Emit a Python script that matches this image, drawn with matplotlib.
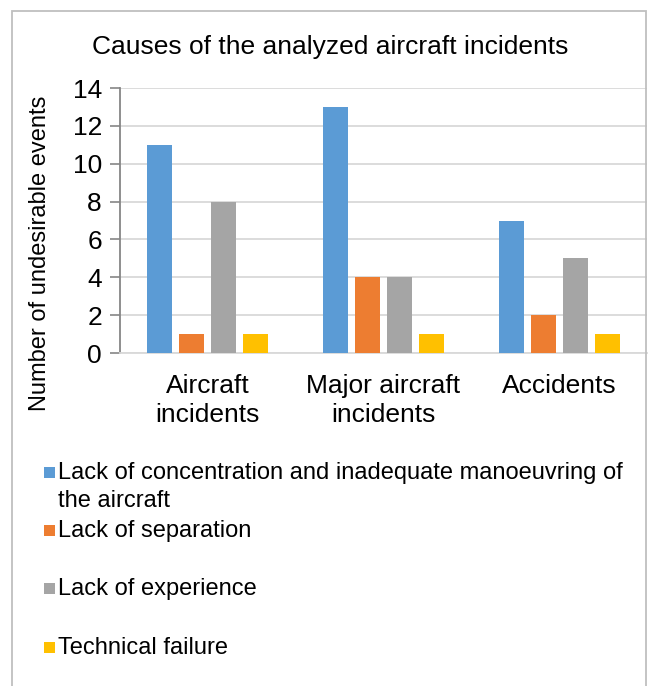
import matplotlib
matplotlib.use("Agg")
import matplotlib.pyplot as plt
from matplotlib.patches import Rectangle
import numpy as np

plt.rcParams['font.family'] = ['Liberation Sans', 'DejaVu Sans']

categories = ["Aircraft\nincidents", "Major aircraft\nincidents", "Accidents"]
series_names = [
    "Lack of concentration and inadequate manoeuvring of\nthe aircraft",
    "Lack of separation",
    "Lack of experience",
    "Technical failure",
]
series_values = [
    [11, 13, 7],
    [1, 4, 2],
    [8, 4, 5],
    [1, 1, 1],
]
colors = ["#5B9BD5", "#ED7D31", "#A5A5A5", "#FFC000"]
yticks = [0, 2, 4, 6, 8, 10, 12, 14]
title = "Causes of the analyzed aircraft incidents"
ylabel = "Number of undesirable events"

W, H = 648, 686
fig = plt.figure(figsize=(W / 100, H / 100), dpi=100)

def fx(px):
    return px / W

def fy(py):
    return 1 - py / H

# outer border
fig.patches.append(Rectangle((fx(12), fy(700)), fx(646) - fx(12), fy(11) - fy(700),
                             transform=fig.transFigure, fill=False,
                             edgecolor="#BFBFBF", linewidth=1.3, clip_on=False))

ax = fig.add_axes([fx(120), fy(353), fx(647) - fx(120), fy(88) - fy(353)])
x = np.arange(len(categories))
bw = 25 / 176
step = 32 / 176
bars = []
for i, (vals, c) in enumerate(zip(series_values, colors)):
    off = (i - 1.5) * step
    b = ax.bar(x + off, vals, width=bw, color=c, zorder=3)
    bars.append(b)

ax.set_xlim(-0.5, len(categories) - 0.5)
ax.set_ylim(0, 14)
ax.set_yticks(yticks)
ax.set_yticklabels([str(t) for t in yticks], fontsize=19)
ax.set_xticks(x)
ax.set_xticklabels(categories, fontsize=19, linespacing=1.25)
ax.tick_params(axis='x', length=0, pad=15)
ax.tick_params(axis='y', length=7, width=1.2, color="#868686", pad=6, direction='out')
ax.grid(axis='y', color="#D9D9D9", linewidth=1.3, zorder=0)
for s in ['top', 'right']:
    ax.spines[s].set_visible(False)
ax.spines['left'].set_color("#868686")
ax.spines['left'].set_linewidth(1.3)
ax.spines['bottom'].set_color("#D9D9D9")
ax.spines['bottom'].set_linewidth(1.3)

fig.text(fx(330), fy(47), title, fontsize=19, ha='center', va='center')
fig.text(fx(40), fy(253), ylabel, fontsize=17, rotation=90, ha='center', va='center')

# legend
leg_y = [472, 530, 588, 647]
for name, c, yy, b in zip(series_names, colors, leg_y, bars):
    fig.patches.append(Rectangle((fx(44), fy(yy + 6)), fx(11), fx(11) * W / H,
                                 transform=fig.transFigure, facecolor=b.patches[0].get_facecolor(),
                                 edgecolor='none'))
    fig.text(fx(58), fy(yy - 10), name, fontsize=17, ha='left', va='top', linespacing=1.38)

fig.savefig("out.png", dpi=100)
